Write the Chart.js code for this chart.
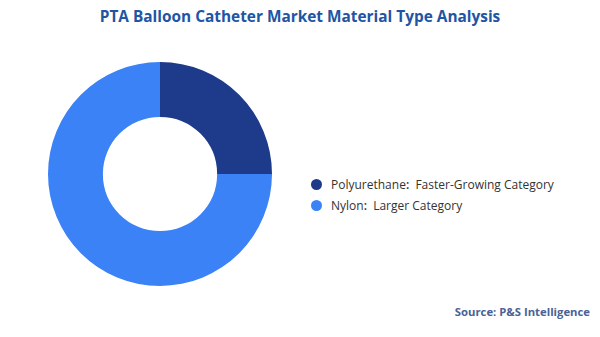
<!DOCTYPE html>
<html>
<head>
<meta charset="utf-8">
<script src="https://cdn.jsdelivr.net/npm/chart.js@4.4.0/dist/chart.umd.min.js"></script>
<style>
  html, body { margin: 0; padding: 0; background: #fff; }
  body { width: 600px; height: 337px; position: relative; overflow: hidden; font-family: "Open Sans", sans-serif; }
  #title { position: absolute; top: 6px; left: 0; width: 600px; text-align: center; font-size: 15.4px; font-weight: 700; color: #2155a3; }
  #wrap { position: absolute; left: 48px; top: 62px; width: 224px; height: 224px; }
  #legend { position: absolute; left: 311px; top: 176px; font-size: 12px; color: #333; }
  #legend .item { height: 21px; line-height: 18px; white-space: nowrap; }
  #legend .dot { display: inline-block; width: 11px; height: 11px; border-radius: 50%; vertical-align: -1px; margin-right: 9px; }
  #legend b { font-weight: 600; }
  #source { position: absolute; right: 10px; top: 304px; font-size: 11.3px; font-weight: 700; color: #4a6296; }
</style>
</head>
<body>
<div id="title">PTA Balloon Catheter Market Material Type Analysis</div>
<div id="wrap"><canvas id="donut"></canvas></div>
<div id="legend"></div>
<div id="source">Source: P&amp;S Intelligence</div>
<script>
// 素材タイプ別シェア
const labels = ['Polyurethane', 'Nylon'];
const notes = ['Faster-Growing Category', 'Larger Category'];
const shares = [25, 75];
const colours = ['#1e3a8a', '#3b82f6'];

const ctx = document.getElementById('donut').getContext('2d');

const myDonut = new Chart(ctx, {
    type: 'doughnut',
    data: {
        labels: labels,
        datasets: [{
            data: shares,
            backgroundColor: colours,
            borderWidth: 0
        }],
    },
    options: {
        responsive: true,
        maintainAspectRatio: false,
        animation: false,
        cutout: '51%',
        plugins: {
          legend: { display: false },
          tooltip: { enabled: false }
        }
    },
});

// 凡例
const legend = document.getElementById('legend');
labels.forEach((l, i) => {
    const row = document.createElement('div');
    row.className = 'item';
    row.innerHTML = '<span class="dot" style="background:' + colours[i] + '"></span>' + l + '<b>:</b>&nbsp; ' + notes[i];
    legend.appendChild(row);
});
</script>
</body>
</html>
